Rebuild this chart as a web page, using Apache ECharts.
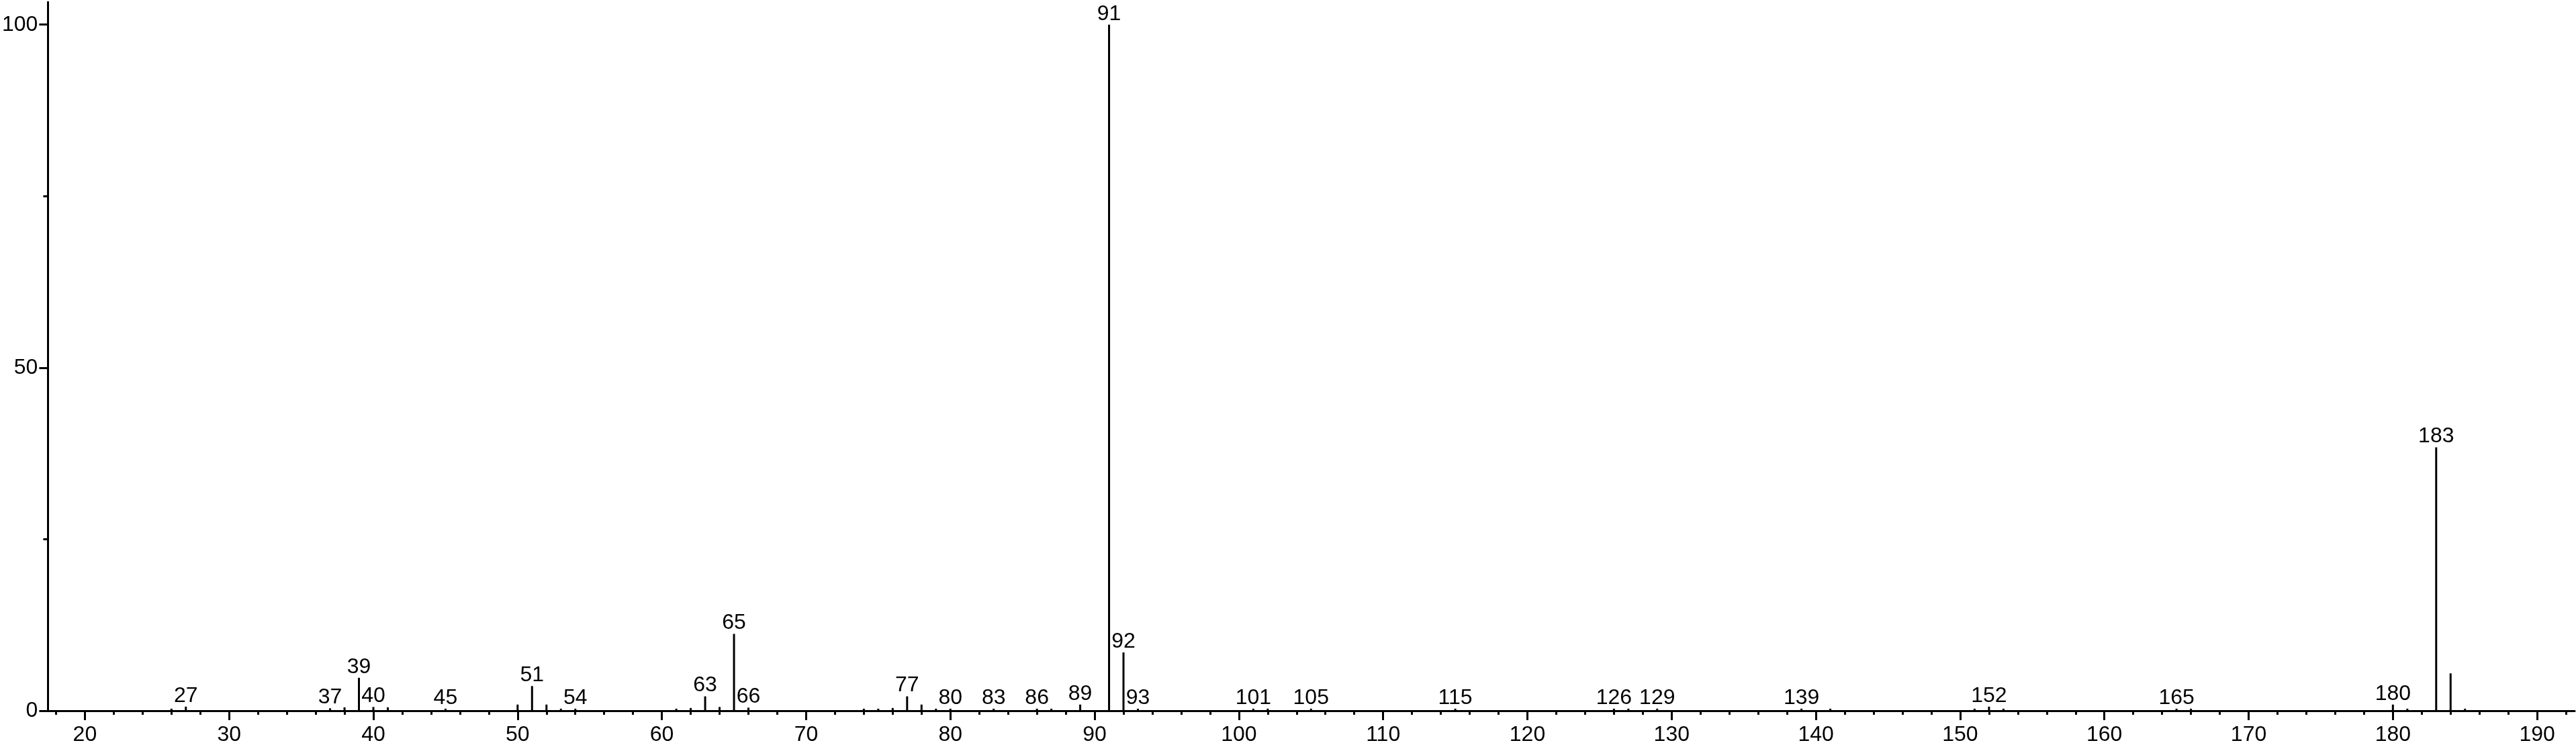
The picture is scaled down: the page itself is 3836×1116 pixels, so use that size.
<!DOCTYPE html>
<html>
<head>
<meta charset="utf-8">
<style>
  html, body { margin: 0; padding: 0; background: #ffffff; }
  #chart { width: 3836px; height: 1116px; }
</style>
<script src="https://cdn.jsdelivr.net/npm/echarts@6/dist/echarts.min.js"></script>
</head>
<body>
<div id="chart"></div>
<script>
// m/z values of the peaks
const mzValues = [26, 27, 37, 38, 39, 40, 41, 45, 50, 51, 52, 53, 54, 61, 62, 63, 64, 65, 66,
  74, 75, 76, 77, 78, 79, 80, 83, 86, 87, 89, 91, 92, 93, 101, 102, 105, 115, 126, 127, 129,
  139, 141, 151, 152, 153, 165, 166, 180, 181, 183, 184, 185];
// relative intensities (%)
const intensities = [0.3, 0.6, 0.35, 0.5, 4.8, 0.55, 0.5, 0.3, 0.9, 3.6, 0.9, 0.3, 0.3, 0.3, 0.4, 2.1, 0.55, 11.2, 0.45,
  0.3, 0.3, 0.4, 2.1, 0.9, 0.3, 0.3, 0.3, 0.3, 0.3, 0.9, 100, 8.5, 0.3, 0.3, 0.3, 0.3, 0.3, 0.3, 0.3, 0.3,
  0.3, 0.3, 0.3, 0.6, 0.3, 0.3, 0.3, 0.9, 0.3, 38.4, 5.45, 0.3];
// peaks carrying a text label
const labeledPeaks = [27, 37, 39, 40, 45, 51, 54, 63, 65, 66, 77, 80, 83, 86, 89, 91, 92, 93,
  101, 105, 115, 126, 129, 139, 152, 165, 180, 183];
// axis ranges and tick labels
const xRange = [17.44, 192.6];
const yRange = [0, 103.3];
const xTickLabels = [20, 30, 40, 50, 60, 70, 80, 90, 100, 110, 120, 130, 140, 150, 160, 170, 180, 190];
const xMinorTicks = [18, 22, 24, 26, 28, 32, 34, 36, 38, 42, 44, 46, 48, 52, 54, 56, 58, 62, 64, 66, 68,
  72, 74, 76, 78, 82, 84, 86, 88, 92, 94, 96, 98, 102, 104, 106, 108, 112, 114, 116, 118, 122, 124, 126, 128,
  132, 134, 136, 138, 142, 144, 146, 148, 152, 154, 156, 158, 162, 164, 166, 168, 172, 174, 176, 178,
  182, 184, 186, 188, 192];
const yTickLabels = [0, 50, 100];
const yMinorTicks = [25, 75];

const FONT = '"Liberation Sans", Arial, Helvetica, sans-serif';
const BLACK = '#000000';

const seriesData = mzValues.map((m, i) => ({
  value: [m, intensities[i]],
  label: { show: labeledPeaks.includes(m) }
}));

const chart = echarts.init(document.getElementById('chart'), null, { renderer: 'canvas' });
chart.setOption({
  animation: false,
  backgroundColor: '#ffffff',
  grid: { left: 70, right: 2, top: 3, bottom: 57, containLabel: false },
  xAxis: [{
    type: 'value',
    min: xRange[0],
    max: xRange[1],
    position: 'bottom',
    splitLine: { show: false },
    axisLine: { show: true, lineStyle: { color: BLACK, width: 3 } },
    axisTick: { show: true, inside: false, length: 14, customValues: xTickLabels, lineStyle: { color: BLACK, width: 3 } },
    axisLabel: { show: true, margin: 20, color: BLACK, fontSize: 32, fontFamily: FONT, customValues: xTickLabels }
  }, {
    type: 'value',
    min: xRange[0],
    max: xRange[1],
    position: 'bottom',
    offset: 0,
    splitLine: { show: false },
    axisLine: { show: false },
    axisTick: { show: true, inside: false, length: 6, customValues: xMinorTicks, lineStyle: { color: BLACK, width: 3 } },
    axisLabel: { show: false }
  }],
  yAxis: [{
    type: 'value',
    min: yRange[0],
    max: yRange[1],
    position: 'left',
    splitLine: { show: false },
    axisLine: { show: true, lineStyle: { color: BLACK, width: 3 } },
    axisTick: { show: true, inside: false, length: 13, customValues: yTickLabels, lineStyle: { color: BLACK, width: 3 } },
    axisLabel: { show: true, margin: 15, color: BLACK, fontSize: 32, fontFamily: FONT, customValues: yTickLabels }
  }, {
    type: 'value',
    min: yRange[0],
    max: yRange[1],
    position: 'left',
    offset: 0,
    splitLine: { show: false },
    axisLine: { show: false },
    axisTick: { show: true, inside: false, length: 7, customValues: yMinorTicks, lineStyle: { color: BLACK, width: 3 } },
    axisLabel: { show: false }
  }],
  series: [{
    type: 'bar',
    xAxisIndex: 0,
    yAxisIndex: 0,
    barWidth: 3,
    itemStyle: { color: BLACK },
    label: {
      show: false,
      position: 'top',
      distance: 0,
      color: BLACK,
      fontSize: 32,
      fontFamily: FONT,
      formatter: p => String(p.value[0])
    },
    data: seriesData
  }]
});
</script>
</body>
</html>
